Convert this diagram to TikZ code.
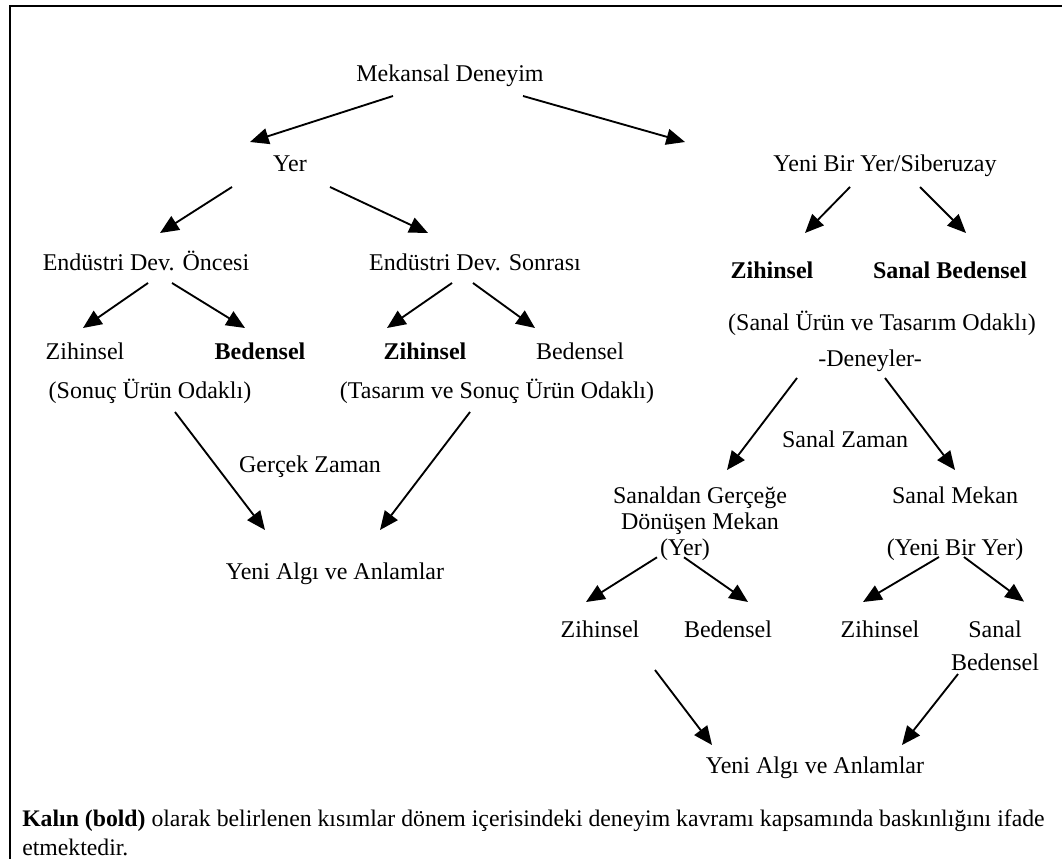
\documentclass[tikz,border=0pt]{standalone}
\usepackage{fontspec}
\setmainfont{Liberation Serif}
\usetikzlibrary{arrows.meta,calc}
\begin{document}
\begin{tikzpicture}[x=0.75pt,y=-0.75pt,
  lbl/.style={inner sep=0pt,anchor=base,font=\fontsize{18}{21}\selectfont},
  blbl/.style={lbl,font=\fontsize{18}{21}\selectfont\bfseries},
  arr/.style={line width=1.4pt,-{Triangle[length=14pt,width=12pt]}},
  frame/.style={line width=1.4pt}]
\useasboundingbox (0,0) rectangle (1062,859);
\draw[frame] (1062,6) -- (10,6) -- (10,859);
% nodes
\node[lbl] (m) at (450,82) {Mekansal Deneyim};
\node[lbl] (yer) at (290,172) {Yer};
\node[lbl] (yeni) at (885,172) {Yeni Bir Yer/Siberuzay};
\node[lbl] (onc) at (146,270) {Endüstri Dev. Öncesi};
\node[lbl] (son) at (475,270) {Endüstri Dev. Sonrası};
\node[blbl] (zr) at (772,278) {Zihinsel};
\node[blbl] (sbr) at (950,278) {Sanal Bedensel};
\node[lbl] (suto) at (882,330) {(Sanal Ürün ve Tasarım Odaklı)};
\node[lbl] (z1) at (85,359) {Zihinsel};
\node[blbl] (b1) at (260,359) {Bedensel};
\node[blbl] (z2) at (425,359) {Zihinsel};
\node[lbl] (b2) at (580,359) {Bedensel};
\node[lbl] (den) at (870,366) {-Deneyler-};
\node[lbl] (suo) at (150,398) {(Sonuç Ürün Odaklı)};
\node[lbl] (tsuo) at (497,398) {(Tasarım ve Sonuç Ürün Odaklı)};
\node[lbl] (sz) at (845,447) {Sanal Zaman};
\node[lbl] (gz) at (310,472) {Gerçek Zaman};
\node[lbl,anchor=north,align=center,font=\fontsize{18}{19.5}\selectfont] (sgd) at (700,487) {Sanaldan Gerçeğe\\Dönüşen Mekan\\(Yer)\hspace*{22.5pt}};
\node[lbl] (sm) at (955,503) {Sanal Mekan};
\node[lbl] (ybr) at (955,555) {(Yeni Bir Yer)};
\node[lbl] (ya1) at (335,579) {Yeni Algı ve Anlamlar};
\node[lbl] (z3) at (600,637) {Zihinsel};
\node[lbl] (b3) at (728,637) {Bedensel};
\node[lbl] (z4) at (880,637) {Zihinsel};
\node[lbl,anchor=north,align=center,font=\fontsize{18}{24.75}\selectfont] (sb4) at (995,620.6) {Sanal\\Bedensel};
\node[lbl] (ya2) at (815,773) {Yeni Algı ve Anlamlar};
\node[lbl,anchor=north west,align=left,font=\fontsize{17.8}{21.75}\selectfont] (note) at (22,810) {\textbf{Kalın (bold)} olarak belirlenen kısımlar dönem içerisindeki deneyim kavramı kapsamında baskınlığını ifade\\etmektedir.};
% arrows
\draw[arr] ($(m.base)+(-57,14)$) -- ($(yer.base)+(-40,-30)$);
\draw[arr] ($(m.base)+(73,14)$) -- ($(yeni.base)+(-200,-30)$);
\draw[arr] ($(yer.base)+(-58,15)$) -- ($(onc.base)+(14,-37)$);
\draw[arr] ($(yer.base)+(40,15)$) -- ($(son.base)+(-47,-37)$);
\draw[arr] ($(yeni.base)+(-35,15)$) -- ($(zr.base)+(33,-45)$);
\draw[arr] ($(yeni.base)+(35,15)$) -- ($(sbr.base)+(16,-45)$);
\draw[arr] ($(onc.base)+(2,13)$) -- ($(z1.base)+(-2,-31)$);
\draw[arr] ($(onc.base)+(26,13)$) -- ($(b1.base)+(-15,-31)$);
\draw[arr] ($(son.base)+(-23,13)$) -- ($(z2.base)+(-38,-31)$);
\draw[arr] ($(son.base)+(-2,13)$) -- ($(b2.base)+(-45,-31)$);
\draw[arr] ($(den.base)+(-73,12)$) -- ($(sgd.north)+(27,-17)$);
\draw[arr] ($(den.base)+(15,12)$) -- ($(sm.base)+(0,-33)$);
\draw[arr] ($(suo.base)+(25,14)$) -- ($(ya1.base)+(-70,-49)$);
\draw[arr] ($(tsuo.base)+(-27,14)$) -- ($(ya1.base)+(45,-49)$);
\draw[arr] ($(sgd.south)+(-43,-4)$) -- ($(z3.base)+(-14,-35)$);
\draw[arr] ($(sgd.south)+(-16,-4)$) -- ($(b3.base)+(20,-35)$);
\draw[arr] ($(ybr.base)+(-16,2)$) -- ($(z4.base)+(-17,-35)$);
\draw[arr] ($(ybr.base)+(9,2)$) -- ($(sb4.north)+(29,-19)$);
\draw[arr] ($(z3.base)+(55,33)$) -- ($(ya2.base)+(-103,-28)$);
\draw[arr] ($(sb4.south)+(-37,3)$) -- ($(ya2.base)+(87,-28)$);
\end{tikzpicture}
\end{document}
